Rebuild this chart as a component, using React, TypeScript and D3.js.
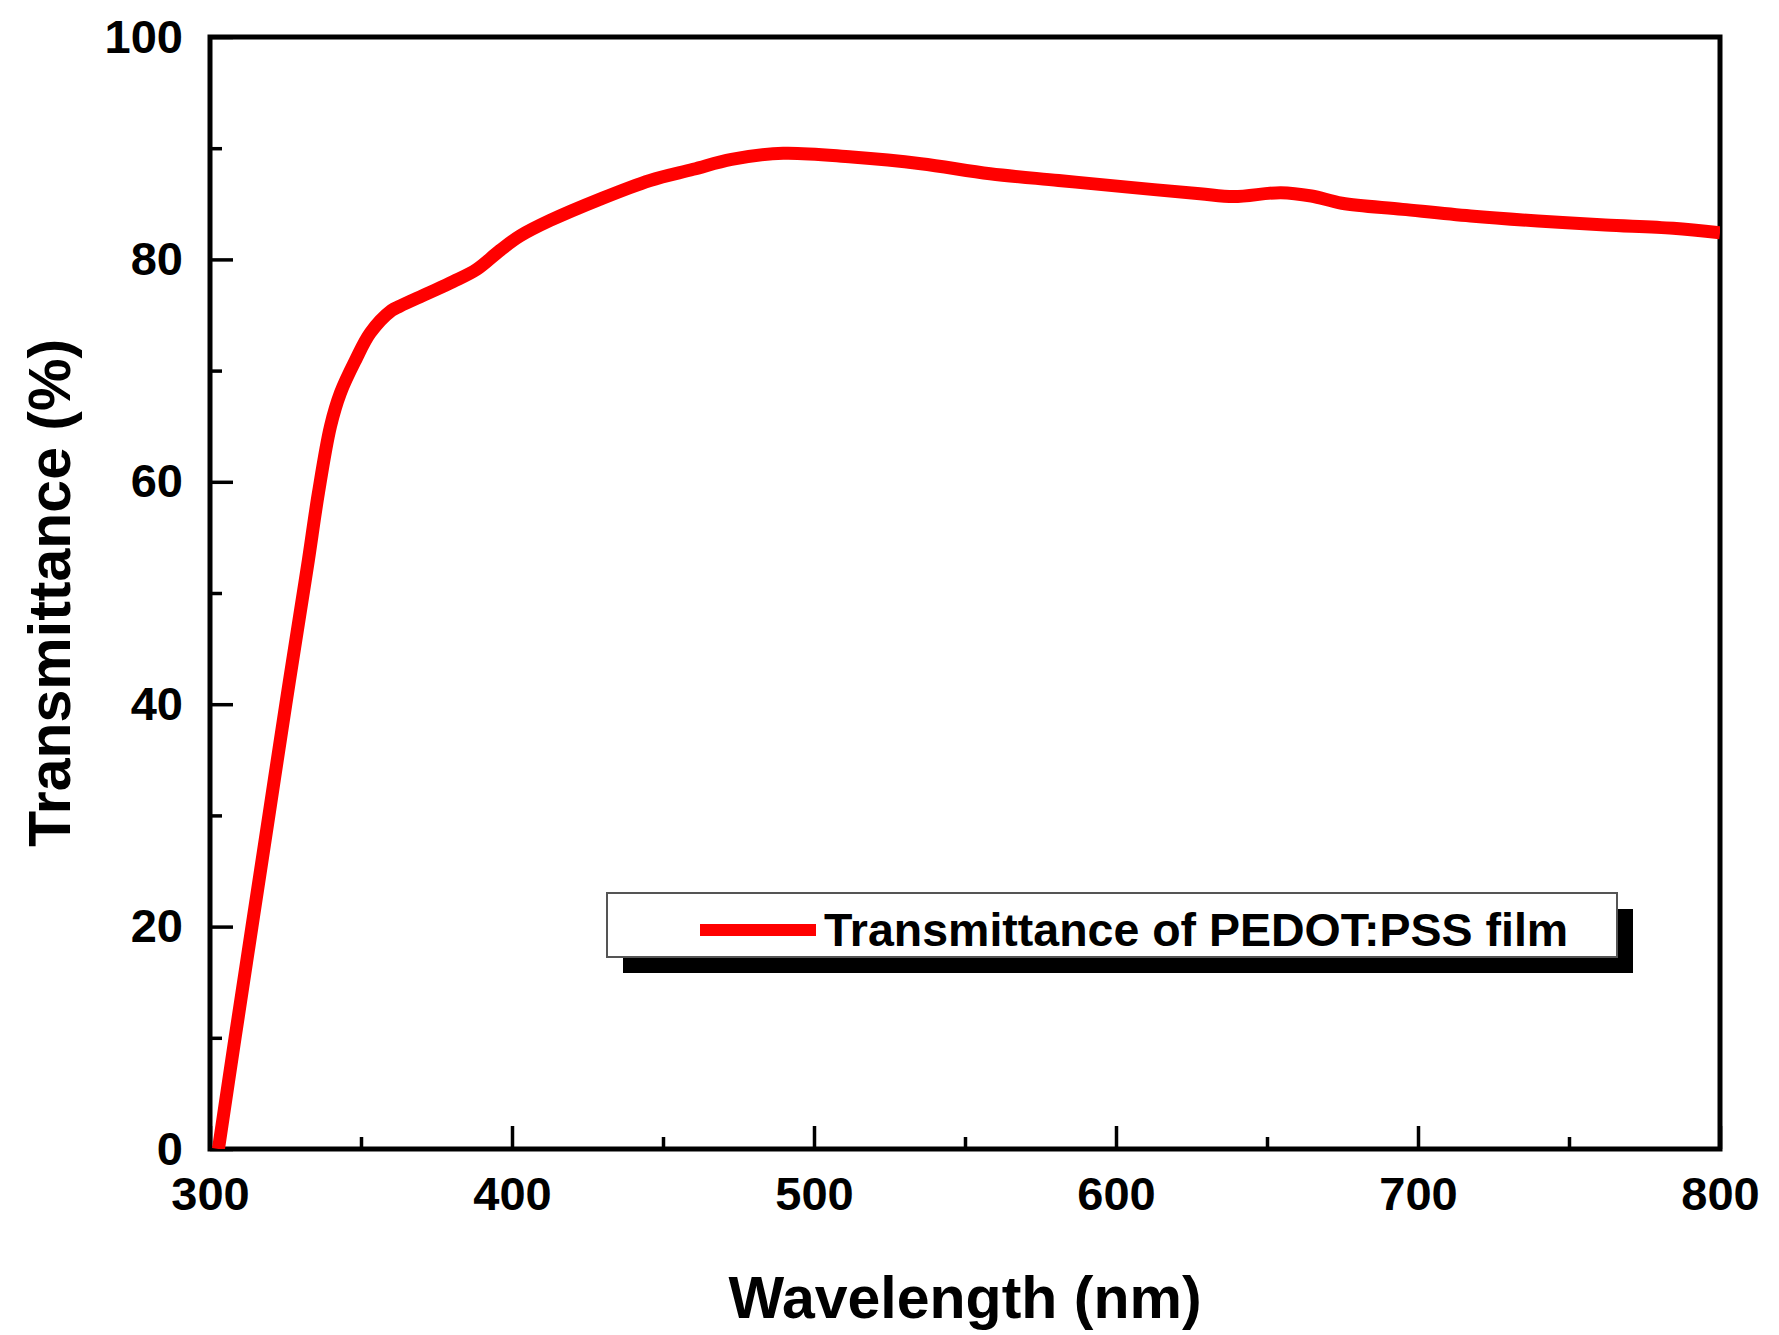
import React, { useEffect, useRef } from "react";
import * as d3 from "d3";

// wavelength (nm) and transmittance (%)
const wavelength = [
  302.8, 308.3, 313.9, 319.5, 325.1, 330, 332.6, 335.9, 339.9, 343.2, 348.3,
  353.1, 360.1, 362.9, 371.7, 380.5, 388.3, 396, 402.6, 412.6, 429, 445.7, 460,
  472.7, 489.8, 512.6, 535.4, 558.3, 581, 603.9, 627.8, 639, 654.6, 664.7,
  674.8, 694.9, 717.4, 739.7, 762, 784.5, 800,
];
const transmittance = [
  0, 10, 20, 30, 40, 48.5, 53, 59, 65, 68, 71, 73.4, 75.4, 75.8, 76.9, 78.0,
  79.1, 80.8, 82.1, 83.5, 85.4, 87.1, 88.1, 89.0, 89.55, 89.2, 88.6, 87.7, 87.1,
  86.5, 85.9, 85.65, 86.0, 85.7, 85.05, 84.5, 83.9, 83.45, 83.1, 82.8, 82.4,
];

const xMajor = [300, 400, 500, 600, 700, 800];
const xMinor = [350, 450, 550, 650, 750];
const yMajor = [0, 20, 40, 60, 80, 100];
const yMinor = [10, 30, 50, 70, 90];

const legendLabel = "Transmittance of PEDOT:PSS film";
const xTitle = "Wavelength (nm)";
const yTitle = "Transmittance (%)";

const W = 1779;
const H = 1335;
const margin = { top: 37, right: 59, bottom: 186, left: 210 };
const width = W - margin.left - margin.right;
const height = H - margin.top - margin.bottom;
const font = "'Liberation Sans', Arial, sans-serif";

export default function App() {
  const xRef = useRef<SVGGElement>(null);
  const yRef = useRef<SVGGElement>(null);

  const x = d3.scaleLinear().domain([300, 800]).range([0, width]);
  const y = d3.scaleLinear().domain([0, 100]).range([height, 0]);

  const points = wavelength.map((w, i) => [w, transmittance[i]] as [number, number]);
  const line = d3
    .line<[number, number]>()
    .x((d) => x(d[0]))
    .y((d) => y(d[1]))
    .curve(d3.curveCatmullRom.alpha(0.5));

  useEffect(() => {
    const gx = d3.select(xRef.current);
    gx.selectAll("*").remove();
    gx.append("g")
      .call(d3.axisBottom(x).tickValues(xMajor).tickSize(-23).tickPadding(28).tickFormat(d3.format("d")))
      .call((g) => g.select(".domain").remove());
    gx.append("g")
      .call(d3.axisBottom(x).tickValues(xMinor).tickSize(-12).tickFormat(() => ""))
      .call((g) => g.select(".domain").remove());

    const gy = d3.select(yRef.current);
    gy.selectAll("*").remove();
    gy.append("g")
      .call(d3.axisLeft(y).tickValues(yMajor).tickSize(-23).tickPadding(27).tickFormat(d3.format("d")))
      .call((g) => g.select(".domain").remove());
    gy.append("g")
      .call(d3.axisLeft(y).tickValues(yMinor).tickSize(-12).tickFormat(() => ""))
      .call((g) => g.select(".domain").remove());

    [gx, gy].forEach((g) => {
      g.selectAll("line").attr("stroke", "#000").attr("stroke-width", 3.5);
      g.selectAll("text")
        .attr("fill", "#000")
        .style("font-family", font)
        .style("font-weight", "bold")
        .style("font-size", "47px");
    });
  }, []);

  return (
    <svg
      width={W}
      height={H}
      style={{ position: "absolute", left: 0, top: 0, background: "#fff" }}
    >
      <defs>
        <clipPath id="plot-clip">
          <rect x={0} y={0} width={width} height={height} />
        </clipPath>
      </defs>
      <g transform={`translate(${margin.left},${margin.top})`}>
        <g ref={xRef} transform={`translate(0,${height})`} />
        <g ref={yRef} />
        <rect
          x={0}
          y={0}
          width={width}
          height={height}
          fill="none"
          stroke="#000"
          strokeWidth={5}
        />
        <path
          d={line(points) ?? ""}
          fill="none"
          stroke="#ff0000"
          strokeWidth={13}
          strokeLinejoin="round"
          clipPath="url(#plot-clip)"
        />
      </g>

      {/* legend */}
      <rect x={623} y={909} width={1010} height={64} fill="#000" />
      <rect x={607} y={893} width={1010} height={64} fill="#fff" stroke="#555" strokeWidth={2} />
      <line x1={700} x2={816} y1={930} y2={930} stroke="#ff0000" strokeWidth={12} />
      <text
        x={824}
        y={946}
        fontFamily={font}
        fontWeight="bold"
        fontSize={46.5}
        fill="#000"
      >
        {legendLabel}
      </text>

      {/* axis titles */}
      <text
        x={margin.left + width / 2}
        y={1318}
        textAnchor="middle"
        fontFamily={font}
        fontWeight="bold"
        fontSize={59}
        fill="#000"
      >
        {xTitle}
      </text>
      <text
        transform={`translate(70,${margin.top + height / 2}) rotate(-90)`}
        textAnchor="middle"
        fontFamily={font}
        fontWeight="bold"
        fontSize={59}
        fill="#000"
      >
        {yTitle}
      </text>
    </svg>
  );
}
